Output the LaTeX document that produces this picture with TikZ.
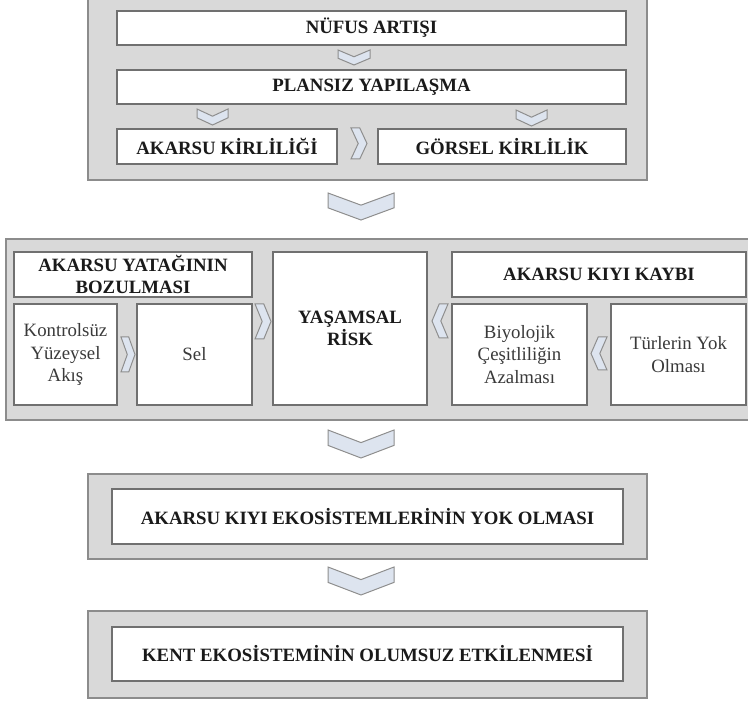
\documentclass[tikz,border=0pt]{standalone}
\usepackage{fontspec}
\setmainfont{Liberation Serif}
\definecolor{panel}{HTML}{D9D9D9}
\definecolor{panelline}{HTML}{8C8C8C}
\definecolor{boxline}{HTML}{707070}
\definecolor{chevfill}{HTML}{DDE4EF}
\definecolor{chevline}{HTML}{8E8E8E}
\definecolor{txt}{HTML}{1A1A1A}
\definecolor{txtlight}{HTML}{3A3A3A}
\tikzset{
 panelbox/.style={draw=panelline, fill=panel, line width=1.4pt, inner sep=0pt, outer sep=0pt},
 whitebox/.style={draw=boxline, fill=white, line width=1.2pt, inner sep=0pt, outer sep=0pt, align=center, font=\fontsize{18.8}{22}\selectfont\bfseries, text=txt},
 lightbox/.style={whitebox, font=\fontsize{18.8}{22.5}\selectfont, text=txtlight},
 chev/.style={draw=chevline, fill=chevfill, line width=1pt, line join=miter},
}
\newcommand\bx[7]{\node[#2, minimum width={(#5)-(#3)}, minimum height={(#6)-(#4)}] (#1) at ({((#3)+(#5))/2},{((#4)+(#6))/2}) {#7};}
\newcommand\chevD[4]{\pgfmathsetmacro\cx{((#1)+(#2))/2}\pgfmathsetmacro\dd{((#4)-(#3))*0.45}%
 \draw[chev] (#1,#3) -- (\cx,#3+\dd) -- (#2,#3) -- (#2,#4-\dd) -- (\cx,#4) -- (#1,#4-\dd) -- cycle;}
\newcommand\chevR[4]{\pgfmathsetmacro\cy{((#3)+(#4))/2}\pgfmathsetmacro\dd{((#2)-(#1))*0.45}%
 \draw[chev] (#1,#3) -- (#2-\dd,#3) -- (#2,\cy) -- (#2-\dd,#4) -- (#1,#4) -- (#1+\dd,\cy) -- cycle;}
\newcommand\chevL[4]{\pgfmathsetmacro\cy{((#3)+(#4))/2}\pgfmathsetmacro\dd{((#2)-(#1))*0.45}%
 \draw[chev] (#2,#3) -- (#1+\dd,#3) -- (#1,\cy) -- (#1+\dd,#4) -- (#2,#4) -- (#2-\dd,\cy) -- cycle;}
\begin{document}
\begin{tikzpicture}[x=1pt,y=-1pt]
\useasboundingbox (0,0) rectangle (748,703);
% top panel
\bx{panelA}{panelbox}{88}{-4}{647}{180}{}
\bx{nufus}{whitebox}{117}{11}{626}{45}{NÜFUS ARTIŞI}
\chevD{338}{370}{50}{65}
\bx{plansiz}{whitebox}{117}{70}{626}{104}{PLANSIZ YAPILAŞMA}
\chevD{197}{228}{109}{125}
\chevD{516}{547}{110}{126}
\bx{akkir}{whitebox}{117}{129}{337}{164}{AKARSU KİRLİLİĞİ}
\chevR{351}{367}{128}{159}
\bx{gorsel}{whitebox}{378}{129}{626}{164}{GÖRSEL KİRLİLİK}
\chevD{328}{394}{193}{220}
% middle panel
\bx{panelB}{panelbox}{6}{239}{752}{420}{}
\bx{yatak}{whitebox}{14}{252}{252}{297}{AKARSU YATAĞININ\\BOZULMASI}
\bx{kontrol}{lightbox}{14}{304}{117}{405}{Kontrolsüz\\Yüzeysel\\Akış}
\chevR{121}{135}{337}{372}
\bx{sel}{lightbox}{137}{304}{252}{405}{Sel}
\chevR{255}{271}{304}{339}
\bx{risk}{whitebox}{273}{252}{427}{405}{YAŞAMSAL\\RİSK}
\chevL{432}{448}{304}{338}
\bx{kiyi}{whitebox}{452}{252}{746}{297}{AKARSU KIYI KAYBI}
\bx{biyo}{lightbox}{452}{304}{587}{405}{Biyolojik\\Çeşitliliğin\\Azalması}
\chevL{591}{607}{337}{370}
\bx{tur}{lightbox}{611}{304}{746}{405}{Türlerin Yok\\Olması}
\chevD{328}{394}{430}{458}
% third panel
\bx{panelC}{panelbox}{88}{474}{647}{559}{}
\bx{ekoyok}{whitebox}{112}{489}{623}{544}{AKARSU KIYI EKOSİSTEMLERİNİN YOK OLMASI}
\chevD{328}{394}{567}{595}
% fourth panel
\bx{panelD}{panelbox}{88}{611}{647}{698}{}
\bx{kent}{whitebox}{112}{627}{623}{681}{KENT EKOSİSTEMİNİN OLUMSUZ ETKİLENMESİ}
\end{tikzpicture}
\end{document}
